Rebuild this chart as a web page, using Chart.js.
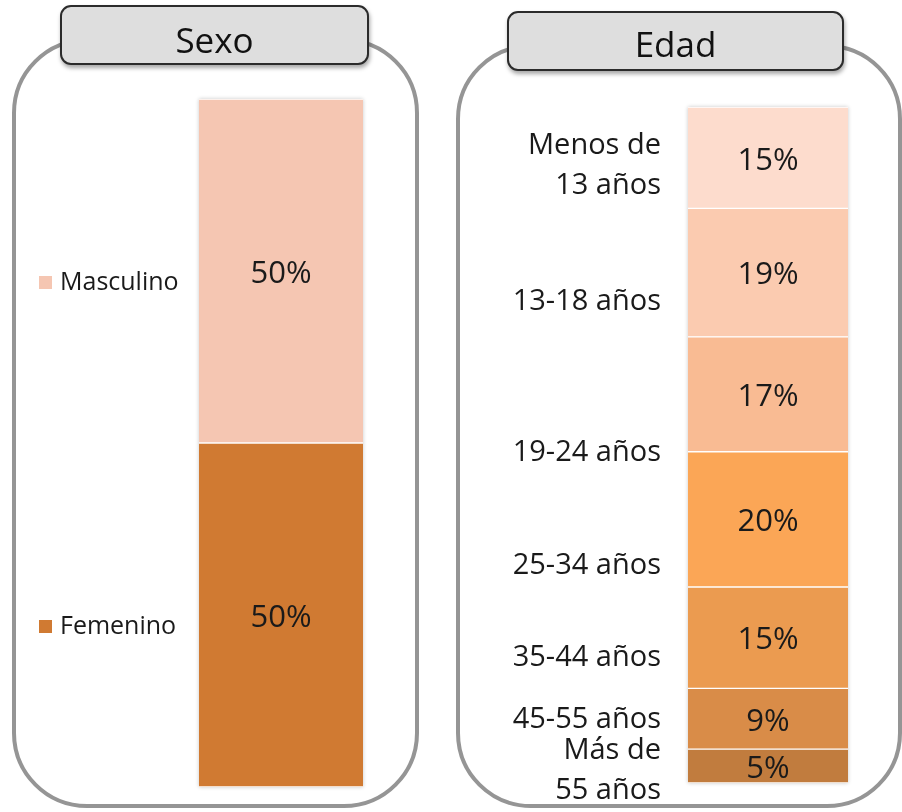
<!DOCTYPE html>
<html>
<head>
<meta charset="utf-8">
<script src="https://cdn.jsdelivr.net/npm/chart.js@4.4.1/dist/chart.umd.min.js"></script>
<style>
  body { margin: 0; background: #fff; }
  #page { position: relative; width: 902px; height: 812px; overflow: hidden; font-family: "Open Sans", sans-serif; }
  .panel { position: absolute; box-sizing: border-box; border: 4px solid #959595; border-radius: 75px; }
  .tab {
    position: absolute; box-sizing: border-box; border: 2px solid #2b2b2b; border-radius: 11px;
    background: #dedede; box-shadow: 1px 3px 4px rgba(0,0,0,.35);
    font-size: 35px; color: #111; text-align: center; z-index: 3;
  }
  canvas { position: absolute; left: 0; top: 0; z-index: 2; }
</style>
</head>
<body>
<div id="page">
  <div class="panel" style="left:12px; top:38px; width:407px; height:770px;"></div>
  <div class="panel" style="left:456px; top:44px; width:446px; height:764px;"></div>
  <div class="tab" style="left:60px; top:5px; width:309px; height:60px; line-height:50px; padding-top:8px;">Sexo</div>
  <div class="tab" style="left:507px; top:11px; width:337px; height:60px; line-height:50px; padding-top:6px;">Edad</div>
  <canvas id="sexoChart" width="902" height="812"></canvas>
  <canvas id="edadChart" width="902" height="812"></canvas>
</div>

<script>
// datos (de abajo hacia arriba en la barra apilada)
const sexoCategorias = ['Sexo'];
const sexoSeries = ['Femenino', 'Masculino'];
const sexoValores = [50, 50];
const sexoColores = ['#D07A32', '#F5C6B2'];

const edadCategorias = ['Edad'];
const edadSeries = ['Más de 55 años', '45-55 años', '35-44 años', '25-34 años', '19-24 años', '13-18 años', 'Menos de 13 años'];
const edadValores = [5, 9, 15, 20, 17, 19, 15];
const edadColores = ['#C17C3E', '#D98C48', '#EB9B50', '#FBA656', '#F9BB93', '#FBCBB0', '#FDDCCD'];

// etiquetas del eje de edad y donde caen (en % del eje)
const edadEtiquetas = [['Más de', '55 años'], '45-55 años', '35-44 años', '25-34 años', '19-24 años', '13-18 años', ['Menos de', '13 años']];
const edadEtiquetasPos = [1.8, 9.3, 18.5, 32.2, 48.8, 71.2, 91.3];

const FONT = '"Open Sans", sans-serif';
const TEXT = '#1a1a1a';

// porcentaje en el centro de cada segmento
const valueLabels = {
  id: 'valueLabels',
  afterDatasetsDraw(chart) {
    const ctx = chart.ctx;
    ctx.save();
    ctx.font = '31px ' + FONT;
    ctx.fillStyle = TEXT;
    ctx.textAlign = 'center';
    ctx.textBaseline = 'middle';
    chart.data.datasets.forEach((ds, i) => {
      chart.getDatasetMeta(i).data.forEach((bar, j) => {
        const y = (bar.y + bar.base) / 2;
        ctx.fillText(ds.data[j] + '%', bar.x, y + 3);
      });
    });
    ctx.restore();
  }
};

// sombra suave alrededor de la barra
const barShadow = {
  id: 'barShadow',
  beforeDatasetsDraw(chart) {
    const a = chart.chartArea;
    const ctx = chart.ctx;
    ctx.save();
    ctx.shadowColor = 'rgba(0,0,0,0.22)';
    ctx.shadowBlur = 4;
    ctx.fillStyle = '#fff';
    ctx.fillRect(a.left, a.top, a.right - a.left, a.bottom - a.top);
    ctx.restore();
  }
};

// leyenda a la izquierda, a la altura de cada segmento
const sexoLegend = {
  id: 'sexoLegend',
  afterDraw(chart) {
    const ctx = chart.ctx;
    ctx.save();
    ctx.font = '25px ' + FONT;
    ctx.textAlign = 'left';
    ctx.textBaseline = 'middle';
    chart.data.datasets.forEach((ds, i) => {
      const bar = chart.getDatasetMeta(i).data[0];
      const y = (bar.y + bar.base) / 2 + 12;
      ctx.fillStyle = ds.backgroundColor;
      ctx.fillRect(39, y - 7, 13, 13);
      ctx.fillStyle = TEXT;
      ctx.fillText(ds.label, 60, y);
    });
    ctx.restore();
  }
};

function makeDatasets(series, values, colors) {
  return series.map((name, i) => ({
    label: name,
    data: [values[i]],
    backgroundColor: colors[i],
    borderColor: '#ffffff',
    borderWidth: { top: 1, bottom: 1, left: 0, right: 0 },
    borderSkipped: false,
    barPercentage: 1,
    categoryPercentage: 1
  }));
}

new Chart(document.getElementById('sexoChart'), {
  type: 'bar',
  data: {
    labels: sexoCategorias,
    datasets: makeDatasets(sexoSeries, sexoValores, sexoColores)
  },
  options: {
    responsive: false,
    animation: false,
    layout: { padding: { left: 199, right: 539, top: 99, bottom: 25 } },
    plugins: { legend: { display: false }, tooltip: { enabled: false } },
    scales: {
      x: { stacked: true, display: false },
      y: { stacked: true, display: false, min: 0, max: 100 }
    }
  },
  plugins: [barShadow, valueLabels, sexoLegend]
});

new Chart(document.getElementById('edadChart'), {
  type: 'bar',
  data: {
    labels: edadCategorias,
    datasets: makeDatasets(edadSeries, edadValores, edadColores)
  },
  options: {
    responsive: false,
    animation: false,
    layout: { padding: { left: 400, right: 54, top: 107, bottom: 29 } },
    plugins: { legend: { display: false }, tooltip: { enabled: false } },
    scales: {
      x: { stacked: true, display: false },
      y: {
        stacked: true,
        min: 0,
        max: 100,
        afterBuildTicks: axis => { axis.ticks = edadEtiquetasPos.map(v => ({ value: v })); },
        afterFit: axis => {
          axis.width = 288;
          axis.paddingTop = 0;
          axis.paddingBottom = 0;
        },
        grid: { display: false, drawTicks: false },
        border: { display: false },
        ticks: {
          autoSkip: false,
          padding: 27,
          color: TEXT,
          font: { family: FONT, size: 29, lineHeight: 1.38 },
          callback: (v, i) => edadEtiquetas[i]
        }
      }
    }
  },
  plugins: [barShadow, valueLabels]
});
</script>
</body>
</html>
